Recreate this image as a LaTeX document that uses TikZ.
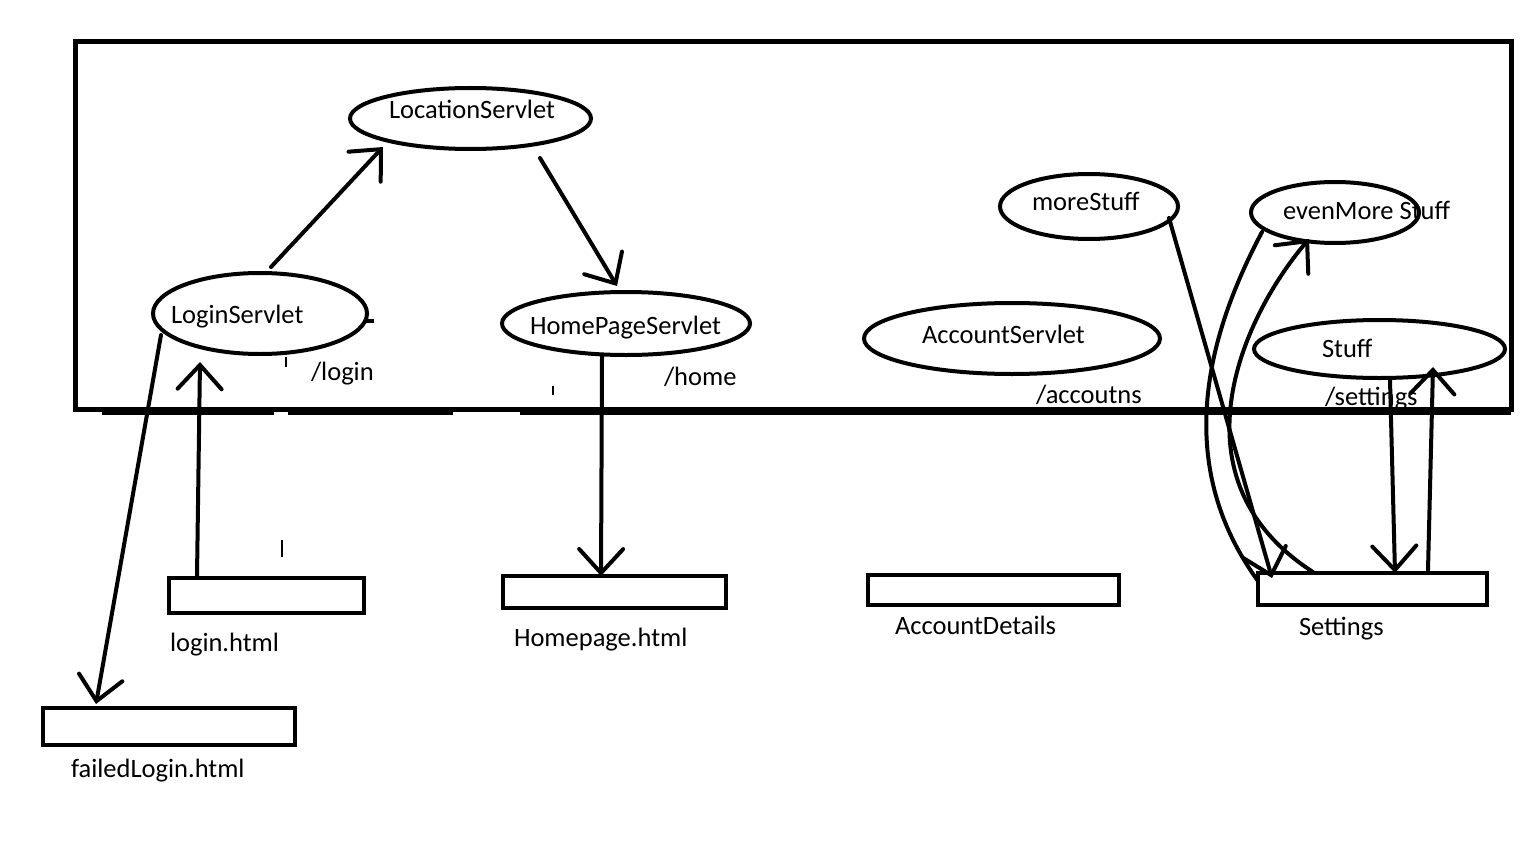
\documentclass[tikz,border=0pt]{standalone}
\usepackage{fontspec}
\setmainfont{Carlito}
\usetikzlibrary{arrows.meta,shapes.geometric}
\begin{document}
\begin{tikzpicture}[x=1pt,y=-1pt,
  every node/.style={inner sep=0pt, outer sep=0pt},
  oval/.style={draw, ellipse, line width=4pt},
  pagebox/.style={draw, rectangle, line width=4.5pt},
  txt/.style={anchor=base west, font=\fontsize{26.5}{30}\selectfont},
  conn/.style={line width=4pt, line cap=round, -{Straight Barb[length=24pt,width=44pt,line cap=round]}},
  plain/.style={line width=4pt, line cap=round},
  stray/.style={line width=1.3pt}]
\useasboundingbox (0,0) rectangle (1536,864);

% frame
\node[draw, line width=5pt, minimum width=1436pt, minimum height=367pt] (frame) at (793,225.5) {};
\draw[line width=3.5pt] (102,413) -- (274,413) (288,413) -- (453,413) (520,413) -- (1511,413);

% servlets
\node[oval, minimum width=241pt, minimum height=61pt] (loc) at (470.5,118.5) {};
\node[oval, minimum width=214pt, minimum height=81pt] (login) at (260,313.5) {};
\node[oval, minimum width=248pt, minimum height=63pt] (home) at (626,323.5) {};
\node[oval, minimum width=296pt, minimum height=71pt] (acct) at (1012,338.5) {};
\node[oval, minimum width=178pt, minimum height=65pt] (more) at (1089,206.5) {};
\node[oval, minimum width=168pt, minimum height=61pt] (evm) at (1335,212.5) {};
\node[oval, minimum width=251pt, minimum height=58pt] (stuff) at (1379.5,349) {};

% pages
\node[pagebox, minimum width=195pt, minimum height=35pt] (loginbox) at (266.5,595.5) {};
\node[pagebox, minimum width=223pt, minimum height=32pt] (homebox) at (614.5,592) {};
\node[pagebox, minimum width=251pt, minimum height=30pt] (acctbox) at (993.5,590) {};
\node[pagebox, minimum width=229pt, minimum height=32pt] (setbox) at (1372.5,589) {};
\node[pagebox, minimum width=252pt, minimum height=37pt] (failbox) at (169,726.5) {};

% texts
\node[txt] (tloc) at (389,119) {LocationServlet};
\node[txt] (tlogin) at (171,323) {LoginServlet};
\node[txt] (thome) at (530,334) {HomePageServlet};
\node[txt] (tacct) at (922,343) {AccountServlet};
\node[txt] (tmore) at (1032,210) {moreStuff};
\node[txt] (tevm) at (1283,219) {evenMore Stuff};
\node[txt] (tstuff) at (1322,357) {Stuff};
\node[txt] (plogin) at (311,380) {/login};
\node[txt] (phome) at (664,385) {/home};
\node[txt] (pacct) at (1036,403) {/accoutns};
\node[txt] (pset) at (1325,405) {/settings};
\node[txt] (lloginbox) at (170,651) {login.html};
\node[txt] (lhomebox) at (514,646) {Homepage.html};
\node[txt] (lacctbox) at (895,634) {AccountDetails};
\node[txt] (lsetbox) at (1299,635) {Settings};
\node[txt] (lfailbox) at (71,777) {failedLogin.html};

% connectors
\draw[conn] ([shift={(11,-6)}]login.north) -- ([shift={(-87.5,-2)}]loc.south);
\draw[conn] ([shift={(69.5,9)}]loc.south) -- ([shift={(-9,-6)}]home.north);
\draw[conn] ([shift={(-69.5,-2)}]loginbox.north) -- ([shift={(-60,8)}]login.south);
\draw[conn] ([shift={(8,21.5)}]login.west) -- ([shift={(-73,-4)}]failbox.north);
\draw[conn] ([shift={(-24,2)}]home.south) -- ([shift={(-13.5,0)}]homebox.north);
\draw[conn] ([shift={(80,11.5)}]more.center) -- ([shift={(-100.5,5)}]setbox.north);
\draw[plain] ([shift={(-73,19.5)}]evm.center) .. controls (1210,330) and (1170,460) .. ([shift={(0,8)}]setbox.north west);
\draw[conn] ([shift={(-59.5,-1)}]setbox.north) .. controls (1170,480) and (1240,320) .. ([shift={(-26,-4)}]evm.south);
\draw[conn] ([shift={(10.5,2)}]stuff.south) -- ([shift={(22.5,0)}]setbox.north);
\draw[conn] ([shift={(55.5,-3)}]setbox.north) -- ([shift={(53.5,-11)}]stuff.south);

% small hand-drawn marks
\draw[line width=4pt] ([shift={(-2,7)}]login.east) -- ++(9,0);
\draw[stray] (286,357) -- (286,367);
\draw[stray] (553,386) -- (553,395);
\draw[stray] (282,540) -- (282,557);
\end{tikzpicture}
\end{document}
